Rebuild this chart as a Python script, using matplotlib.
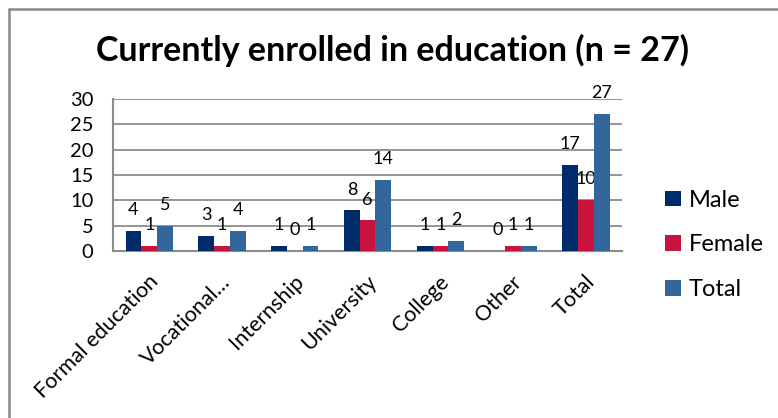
import numpy as np
import matplotlib.pyplot as plt
from matplotlib.patches import Rectangle

categories = ["Formal education", "Vocational\u2026", "Internship", "University",
              "College", "Other", "Total"]
male = [4, 3, 1, 8, 1, 0, 17]
female = [1, 1, 0, 6, 1, 1, 10]
total = [5, 4, 1, 14, 2, 1, 27]
yticks = [0, 5, 10, 15, 20, 25, 30]

plt.rcParams['font.family'] = ['Lato', 'DejaVu Sans']

fig = plt.figure(figsize=(7.78, 4.18), dpi=100)
ax = fig.add_axes([0.145, 0.400, 0.655, 0.363])

# grey frame round the chart
fig.patches.append(Rectangle((9 / 778, -0.1), 1.0, 1.1 - 9 / 418, transform=fig.transFigure,
                             fill=False, edgecolor='#888888', linewidth=1.8))

x = np.arange(len(categories))
w = 0.216
series = [("Male", male, '#002B6B'), ("Female", female, '#C8143C'), ("Total", total, '#33679B')]
for i, (name, vals, col) in enumerate(series):
    bars = ax.bar(x + (i - 1) * w, vals, w, color=col, label=name, zorder=3)
    for b, v in zip(bars, vals):
        ax.annotate(str(v), (b.get_x() + b.get_width() / 2, v), xytext=(0, 15),
                    textcoords='offset points', ha='center', va='center', fontsize=13)

ax.set_xlim(-0.5, len(categories) - 0.5)
ax.set_ylim(0, 30)
ax.set_yticks(yticks)
ax.yaxis.grid(True, color='#8c8c8c', linewidth=1.3, zorder=0)
ax.tick_params(axis='y', length=0, pad=14, labelsize=14.5)
ax.tick_params(axis='x', length=0, pad=15, labelsize=15.5)
ax.set_xticks(x - 0.02)
ax.set_xticklabels(categories, rotation=45, ha='right', rotation_mode='anchor')

for s in ['top', 'right']:
    ax.spines[s].set_visible(False)
for s in ['left', 'bottom']:
    ax.spines[s].set_color('#8c8c8c')
    ax.spines[s].set_linewidth(1.5)

fig.text(0.505, 0.88, "Currently enrolled in education (n = 27)", ha='center', va='center',
         fontsize=24.5, fontweight='bold')

fig.legend(loc='center left', bbox_to_anchor=(0.828, 0.414), frameon=False, fontsize=17,
           handlelength=0.65, handleheight=0.65, handletextpad=0.35, labelspacing=1.0)

fig.savefig('out.png', dpi=100)
